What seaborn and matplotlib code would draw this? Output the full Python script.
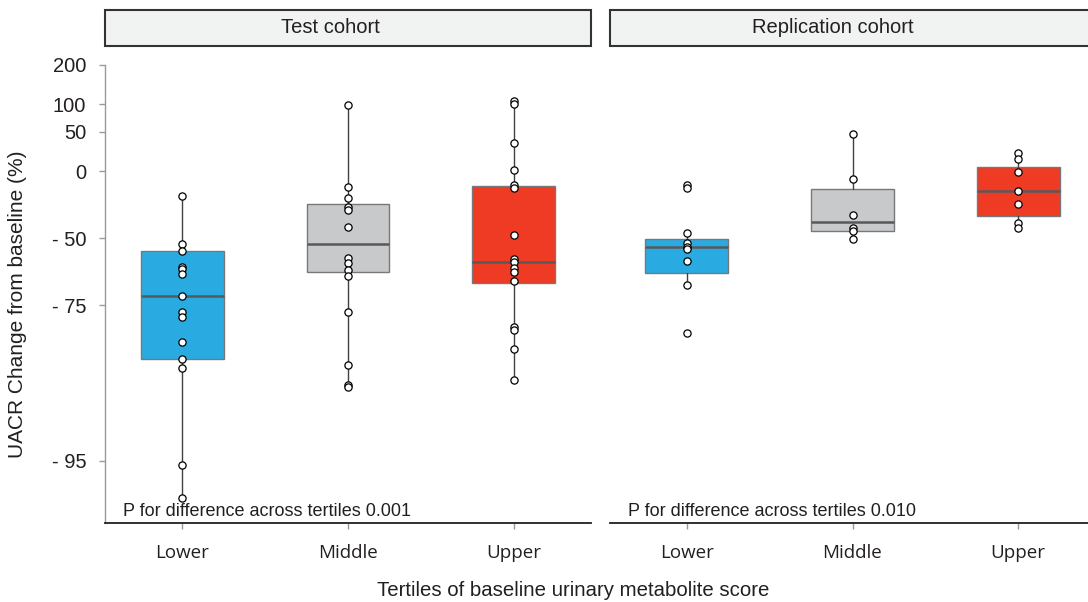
import numpy as np
import pandas as pd
import matplotlib
matplotlib.use("Agg")
import matplotlib.pyplot as plt
from matplotlib.patches import Rectangle
import seaborn as sns

# UACR % change from baseline
tertiles = ["Lower", "Middle", "Upper"]
cohorts = ["Test cohort", "Replication cohort"]
palette = ["#29abe2", "#c8c9cb", "#ef3b24"]

test_lower = [-22.5, -53.1, -56.3, -62.8, -63.7, -65.6, -72.5, -76.7, -77.8, -82.9, -85.7, -87.0, -95.2, -96.6]
test_middle = [99.3, -15.5, -24.1, -31.1, -33.2, -43.6, -59.2, -61.5, -64.1, -66.2, -76.7, -86.6, -89.0, -89.3]
test_upper = [106.9, 101.4, 34.0, 1.0, -13.5, -16.4, -48.3, -59.5, -60.9, -63.2, -64.9, -67.9,
              -80.1, -80.7, -84.1, -88.5]
rep_lower = [-13.7, -16.1, -47.3, -52.6, -54.3, -55.4, -60.4, -69.3, -81.3]
rep_middle = [46.2, -8.2, -36.7, -44.4, -46.2, -50.6]
rep_upper = [21.3, 12.9, -0.7, -18.9, -28.7, -41.8, -44.5]

# box summaries per tertile (Lower, Middle, Upper)
test_q1 = [-85.7, -64.9, -68.4]
test_med = [-72.5, -52.8, -60.9]
test_q3 = [-56.3, -29.1, -14.4]
test_lo = [-96.6, -89.3, -88.5]
test_hi = [-22.5, 99.3, 106.9]

rep_q1 = [-65.2, -46.4, -36.8]
rep_med = [-54.4, -40.8, -18.7]
rep_q3 = [-50.6, -17.2, 4.2]
rep_lo = [-69.3, -50.6, -44.5]
rep_hi = [-47.3, 46.2, 21.3]

p_labels = ["P for difference across tertiles 0.001", "P for difference across tertiles 0.010"]

ytick_vals = [200, 100, 50, 0, -50, -75, -95]
ytick_labels = ["200", "100", "50", "0", "- 50", "- 75", "- 95"]


def tr(v):
    # log of the ratio to baseline
    return np.log1p(np.asarray(v, dtype=float) / 100.0)


rows = []
for cohort, groups in zip(cohorts, [[test_lower, test_middle, test_upper], [rep_lower, rep_middle, rep_upper]]):
    for t, vals in zip(tertiles, groups):
        for v in vals:
            rows.append({"cohort": cohort, "tertile": t, "pct": v})
df = pd.DataFrame(rows)
df["ly"] = tr(df["pct"])

stats_by_cohort = {
    "Test cohort": (test_q1, test_med, test_q3, test_lo, test_hi),
    "Replication cohort": (rep_q1, rep_med, rep_q3, rep_lo, rep_hi),
}

sns.set_style("white")
plt.rcParams["font.family"] = ["Liberation Sans", "DejaVu Sans"]

W, H = 1088, 602
fig = plt.figure(figsize=(W / 100, H / 100), dpi=100)

ax_top, ax_bot = 65, 523
panels = [(105, 591), (610, 1095)]
xlim = (-0.464, 2.464)

for i, (cohort, (x0, x1)) in enumerate(zip(cohorts, panels)):
    ax = fig.add_axes([x0 / W, 1 - ax_bot / H, (x1 - x0) / W, (ax_bot - ax_top) / H])
    q1, med, q3, lo, hi = stats_by_cohort[cohort]
    bstats = []
    for k in range(3):
        bstats.append({"med": tr(med[k]), "q1": tr(q1[k]), "q3": tr(q3[k]),
                       "whislo": tr(lo[k]), "whishi": tr(hi[k]), "fliers": []})
    bp = ax.bxp(bstats, positions=[0, 1, 2], widths=0.5, patch_artist=True, showcaps=False,
                boxprops=dict(edgecolor="#77787b", linewidth=1.0),
                medianprops=dict(color="#58595b", linewidth=1.8),
                whiskerprops=dict(color="#414042", linewidth=1.0))
    for patch, c in zip(bp["boxes"], palette):
        patch.set_facecolor(c)
        patch.set_zorder(2)

    sub = df[df["cohort"] == cohort]
    sns.stripplot(data=sub, x="tertile", y="ly", order=tertiles, jitter=False, color="white",
                  edgecolor="black", linewidth=0.9, size=5.2, ax=ax, zorder=4)

    ax.set_xlim(*xlim)
    ax.set_ylim(np.log(0.02625), np.log(3.0))
    ax.set_xticks([0, 1, 2])
    ax.set_xticklabels(tertiles, fontfamily="Open Sans", fontsize=13.5, color="#231f20")
    ax.set_xlabel("")
    ax.set_ylabel("")
    ax.tick_params(axis="x", bottom=True, length=4, width=1, color="#999999", pad=11)
    for s in ["top", "right"]:
        ax.spines[s].set_visible(False)
    ax.spines["bottom"].set_color("#231f20")
    ax.spines["bottom"].set_linewidth(1.3)
    if i == 0:
        ax.set_yticks(tr(ytick_vals))
        ax.set_yticklabels(ytick_labels, fontsize=14.5, color="#231f20")
        ax.tick_params(axis="y", left=True, length=4.5, width=1, color="#999999", pad=9)
        ax.spines["left"].set_color("#999999")
        ax.spines["left"].set_linewidth(1.0)
    else:
        ax.set_yticks([])
        ax.spines["left"].set_visible(False)

    ax.text(18 / (x1 - x0), (ax_bot - 516) / (ax_bot - ax_top), p_labels[i],
            transform=ax.transAxes, ha="left", va="baseline", fontsize=13, color="#231f20")

    # facet strip
    fig.patches.append(Rectangle((x0 / W, 1 - 46 / H), (x1 - x0) / W, 36.5 / H,
                                 transform=fig.transFigure, facecolor="#f1f2f2",
                                 edgecolor="#333333", linewidth=1.5, zorder=1))
    cx = [330, 833][i]
    fig.text(cx / W, 1 - 27.5 / H, cohort, ha="center", va="center", fontsize=14.5, color="#231f20")

fig.text(18 / W, 1 - 304 / H, "UACR Change from baseline (%)", rotation=90, ha="center",
         va="center", fontsize=15, color="#231f20")
fig.text(573 / W, 1 - 590 / H, "Tertiles of baseline urinary metabolite score", ha="center",
         va="center", fontsize=14.7, color="#231f20")

fig.savefig("out.png", dpi=100)
